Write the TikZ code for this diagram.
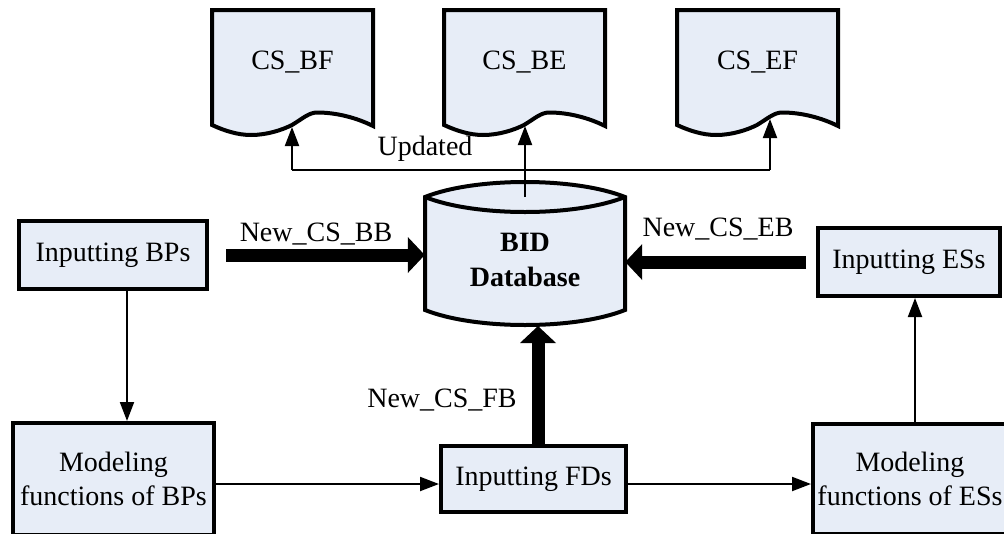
\documentclass[tikz,border=0pt]{standalone}
\usepackage{fontspec}
\setmainfont{Liberation Serif}
\usetikzlibrary{arrows.meta,calc}
\definecolor{boxfill}{RGB}{231,237,247}
\tikzset{
  shapeline/.style={draw=black, line width=4pt, fill=boxfill, line join=miter},
  procbox/.style={shapeline, rectangle, inner sep=0pt, align=center},
  docnode/.style={rectangle, inner sep=0pt, minimum width=161pt, minimum height=100pt, text height=18pt, text depth=0pt},
  lbl/.style={inner sep=0pt, anchor=base},
  thinarrow/.style={draw=black, line width=2pt, -{Triangle[length=19pt,width=14pt]}},
  thinline/.style={draw=black, line width=2pt},
  fatarrow/.style={draw=black, line width=13pt, -{Triangle[length=17pt,width=35pt]}}
}
\newcommand\docshape[1]{\draw[shapeline] (#1,125) -- (#1,10) -- (#1+161,10) -- (#1+161,126)
  .. controls (#1+145,118) and (#1+125,112.5) .. (#1+105,112.5)
  .. controls (#1+97,112.5) and (#1+90,119) .. (#1+80,125)
  .. controls (#1+70,130) and (#1+55,135) .. (#1+39,135)
  .. controls (#1+26,135) and (#1+13,131) .. cycle;}
\begin{document}
\begin{tikzpicture}[x=1pt,y=-1pt,font=\fontsize{28}{33.5}\selectfont]
\useasboundingbox (0,0) rectangle (1004,533);
\clip (0,0) rectangle (1004,533);
% documents
\docshape{212}
\docshape{444}
\docshape{677}
\node[docnode] (csbf) at (292.5,60) {CS\_BF};
\node[docnode] (csbe) at (524.5,60) {CS\_BE};
\node[docnode] (csef) at (757.5,60) {CS\_EF};
\coordinate (cbf) at (292,127);
\coordinate (cbe) at (525,126);
\coordinate (cef) at (770,119);
% database
\draw[shapeline] (425,197) .. controls (475,177) and (575,177) .. (625,197) -- (625,310)
  .. controls (575,330) and (475,330) .. (425,310) -- cycle;
\draw[shapeline, fill=none] (425,197) .. controls (475,217) and (575,217) .. (625,197);
\node[inner sep=0pt, minimum width=200pt, minimum height=100pt, align=center, font=\fontsize{28}{35}\selectfont\bfseries] (db) at (525,260) {BID\\Database};
\coordinate (dbtop) at (525,197);
\coordinate (dbbot) at (538,326);
% process boxes
\node[procbox, minimum width=188pt, minimum height=68pt] (inbp) at (113,255) {Inputting BPs};
\node[procbox, minimum width=182pt, minimum height=68pt] (ines) at (909,262) {Inputting ESs};
\node[procbox, minimum width=185pt, minimum height=66pt] (infd) at (533.5,479) {Inputting FDs};
\node[procbox, minimum width=201pt, minimum height=112pt] (modbp) at (113.5,479) {Modeling\\functions of BPs};
\node[procbox, minimum width=194pt, minimum height=110pt] (modes) at (910,479) {Modeling\\functions of ESs};
% updated connectors
\coordinate (jbf) at (292,170);
\coordinate (jef) at (770,170);
\draw[thinline] (jbf) -- (jef);
\draw[thinarrow] (jbf) -- (cbf);
\draw[thinarrow] (jef) -- (cef);
\draw[thinarrow] (dbtop) -- (cbe);
\node[lbl] (lup) at (425,155) {Updated};
% fat arrows
\draw[fatarrow, shorten <=17pt] (inbp.east) -- (inbp.east -| db.west);
\draw[fatarrow, shorten <=10pt] (ines.west) -- (ines.west -| db.east);
\draw[fatarrow] ([xshift=4.5pt]infd.north) -- (dbbot);
\node[lbl] (lbb) at (316,241) {New\_CS\_BB};
\node[lbl] (leb) at (718,236) {New\_CS\_EB};
\node[lbl] (lfb) at (442,407) {New\_CS\_FB};
% thin flow arrows
\draw[thinarrow] ([xshift=14pt]inbp.south) -- ([xshift=14pt]inbp.south |- modbp.north);
\draw[thinarrow] ([yshift=-5pt]modbp.east) -- ([yshift=-5pt]modbp.east -| infd.west);
\draw[thinarrow] ([yshift=-5pt]infd.east) -- ([yshift=-5pt]infd.east -| modes.west);
\draw[thinarrow] ([xshift=5pt]modes.north) -- ([xshift=5pt]modes.north |- ines.south);
\end{tikzpicture}
\end{document}
